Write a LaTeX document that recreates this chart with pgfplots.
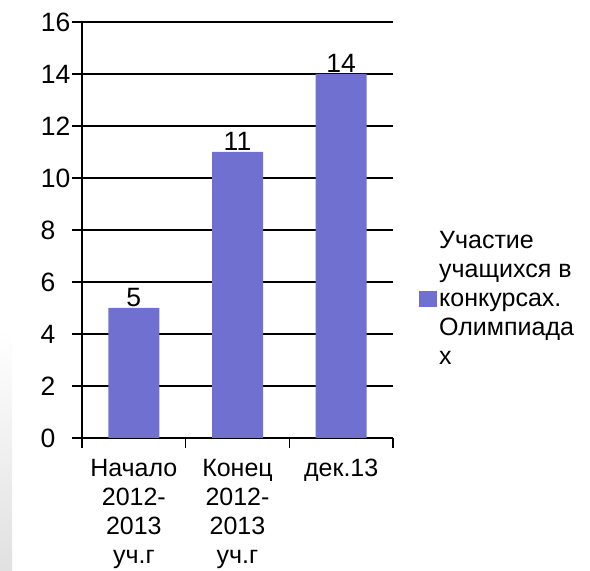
\documentclass[border=0pt]{standalone}
\usepackage{pgfplots}
\pgfplotsset{compat=1.18}
\usepackage{fontspec}
\setmainfont{Liberation Sans}
\definecolor{barcol}{RGB}{112,112,208}
\newcommand{\bigf}{\fontsize{25bp}{29bp}\selectfont}
\newcommand{\numf}{\fontsize{26.5bp}{30bp}\selectfont}
\begin{document}
\begin{tikzpicture}[x=1bp,y=1bp]
\path[use as bounding box] (0,0) rectangle (590,571);
\shade[top color=white, bottom color=black!12] (0,0) rectangle (12,241);
\begin{axis}[
  at={(82bp,133bp)}, anchor=south west,
  scale only axis, width=311bp, height=416bp,
  xmin=-0.5, xmax=2.5, ymin=0, ymax=16,
  /pgf/number format/assume math mode=true,
  axis x line*=bottom, axis y line*=left,
  axis line style={black, line width=1.5bp},
  ytick={0,2,...,16},
  yticklabels={0\kern15bp,2\kern15bp,4\kern15bp,6\kern15bp,8\kern15bp,10,12,14,16},
  ymajorgrids, grid style={black, line width=1.5bp},
  tick style={black, line width=1.5bp},
  major tick length=10bp, tick align=outside,
  xtick={-0.5,0.5,1.5,2.5}, xticklabels={},
  extra x ticks={0,1,2},
  extra x tick labels={{Начало\\2012-\\2013\\уч.г},{Конец\\2012-\\2013\\уч.г},{дек.13}},
  extra x tick style={major tick length=0pt, xticklabel style={align=center, font=\bigf, inner sep=0pt, yshift=-21bp}},
  yticklabel style={font=\numf, inner sep=1.5bp},
  ybar, bar width=51bp,
  nodes near coords, nodes near coords style={font=\numf, inner sep=1.5bp, black},
  legend style={at={(1,0.334)}, anchor=west, xshift=26bp, draw=none, fill=none, font=\bigf, inner sep=0pt, nodes={align=left, inner sep=2bp}},
  legend image code/.code={\fill[barcol] (0bp,-8bp) rectangle (18bp,8bp);},
]
\addplot[fill=barcol, draw=none] coordinates {(0,5) (1,11) (2,14)};
\addlegendentry{Участие\\учащихся в\\конкурсах.\\Олимпиада\\х}
\end{axis}
\end{tikzpicture}
\end{document}
